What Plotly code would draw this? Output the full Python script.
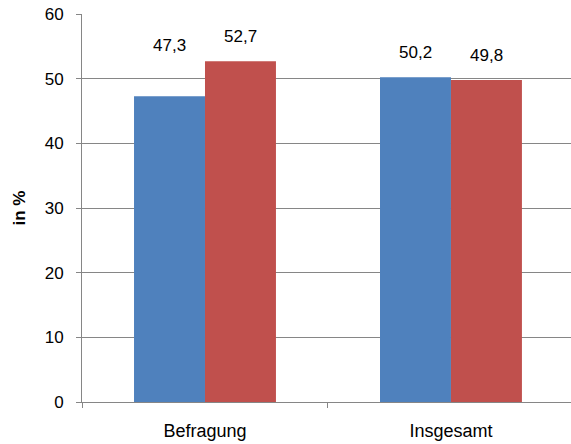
import plotly.graph_objects as go

categories = ["Befragung", "Insgesamt"]
series_a = [47.3, 50.2]
series_b = [52.7, 49.8]
y_ticks = [0, 10, 20, 30, 40, 50, 60]

def fmt(v):
    return f"{v:.1f}".replace(".", ",")

fig = go.Figure()
fig.add_trace(go.Bar(x=categories, y=series_a, marker=dict(color="#4F81BD", line=dict(width=0)), name="A"))
fig.add_trace(go.Bar(x=categories, y=series_b, marker=dict(color="#C0504D", line=dict(width=0)), name="B"))

font_family = "Liberation Sans, Arial, sans-serif"
# label offsets (styling): extra lift for first label, as in reference
extra_lift = [[26, 0], [0, 0]]
for i, c in enumerate(categories):
    for j, (vals, xs) in enumerate([(series_a, -35.5), (series_b, 35.5)]):
        fig.add_annotation(x=c, y=vals[i], xref="x", yref="y", text=fmt(vals[i]),
                           showarrow=False, xshift=xs, yshift=13 + extra_lift[i][j],
                           yanchor="bottom", font=dict(family=font_family, size=17, color="#000000"))

fig.update_layout(
    width=571, height=444,
    margin=dict(l=82, r=0, t=14, b=42),
    paper_bgcolor="white", plot_bgcolor="white",
    barmode="group", bargap=0.423, bargroupgap=0,
    showlegend=False,
    font=dict(family=font_family, size=17, color="#000000"),
)
fig.update_xaxes(
    range=[-0.5, 1.488], showline=True, linecolor="#868686", linewidth=1,
    ticks="outside", tickson="boundaries", ticklen=5, tickcolor="#868686",
    ticklabelstandoff=12, showgrid=False, tickfont=dict(size=18),
)
fig.update_yaxes(
    range=[0, 60], tickvals=y_ticks, showline=True, linecolor="#868686", linewidth=1,
    ticks="outside", ticklen=5, tickcolor="#868686",
    showgrid=True, gridcolor="#868686", gridwidth=1, zeroline=False,
    ticklabelstandoff=9, tickfont=dict(size=17),
    title=dict(text="<b>in %</b>", font=dict(size=17), standoff=14),
)
fig.write_html("out.html", config={"displayModeBar": False},
               post_script="document.body.style.margin='0';document.body.style.overflow='hidden';")
